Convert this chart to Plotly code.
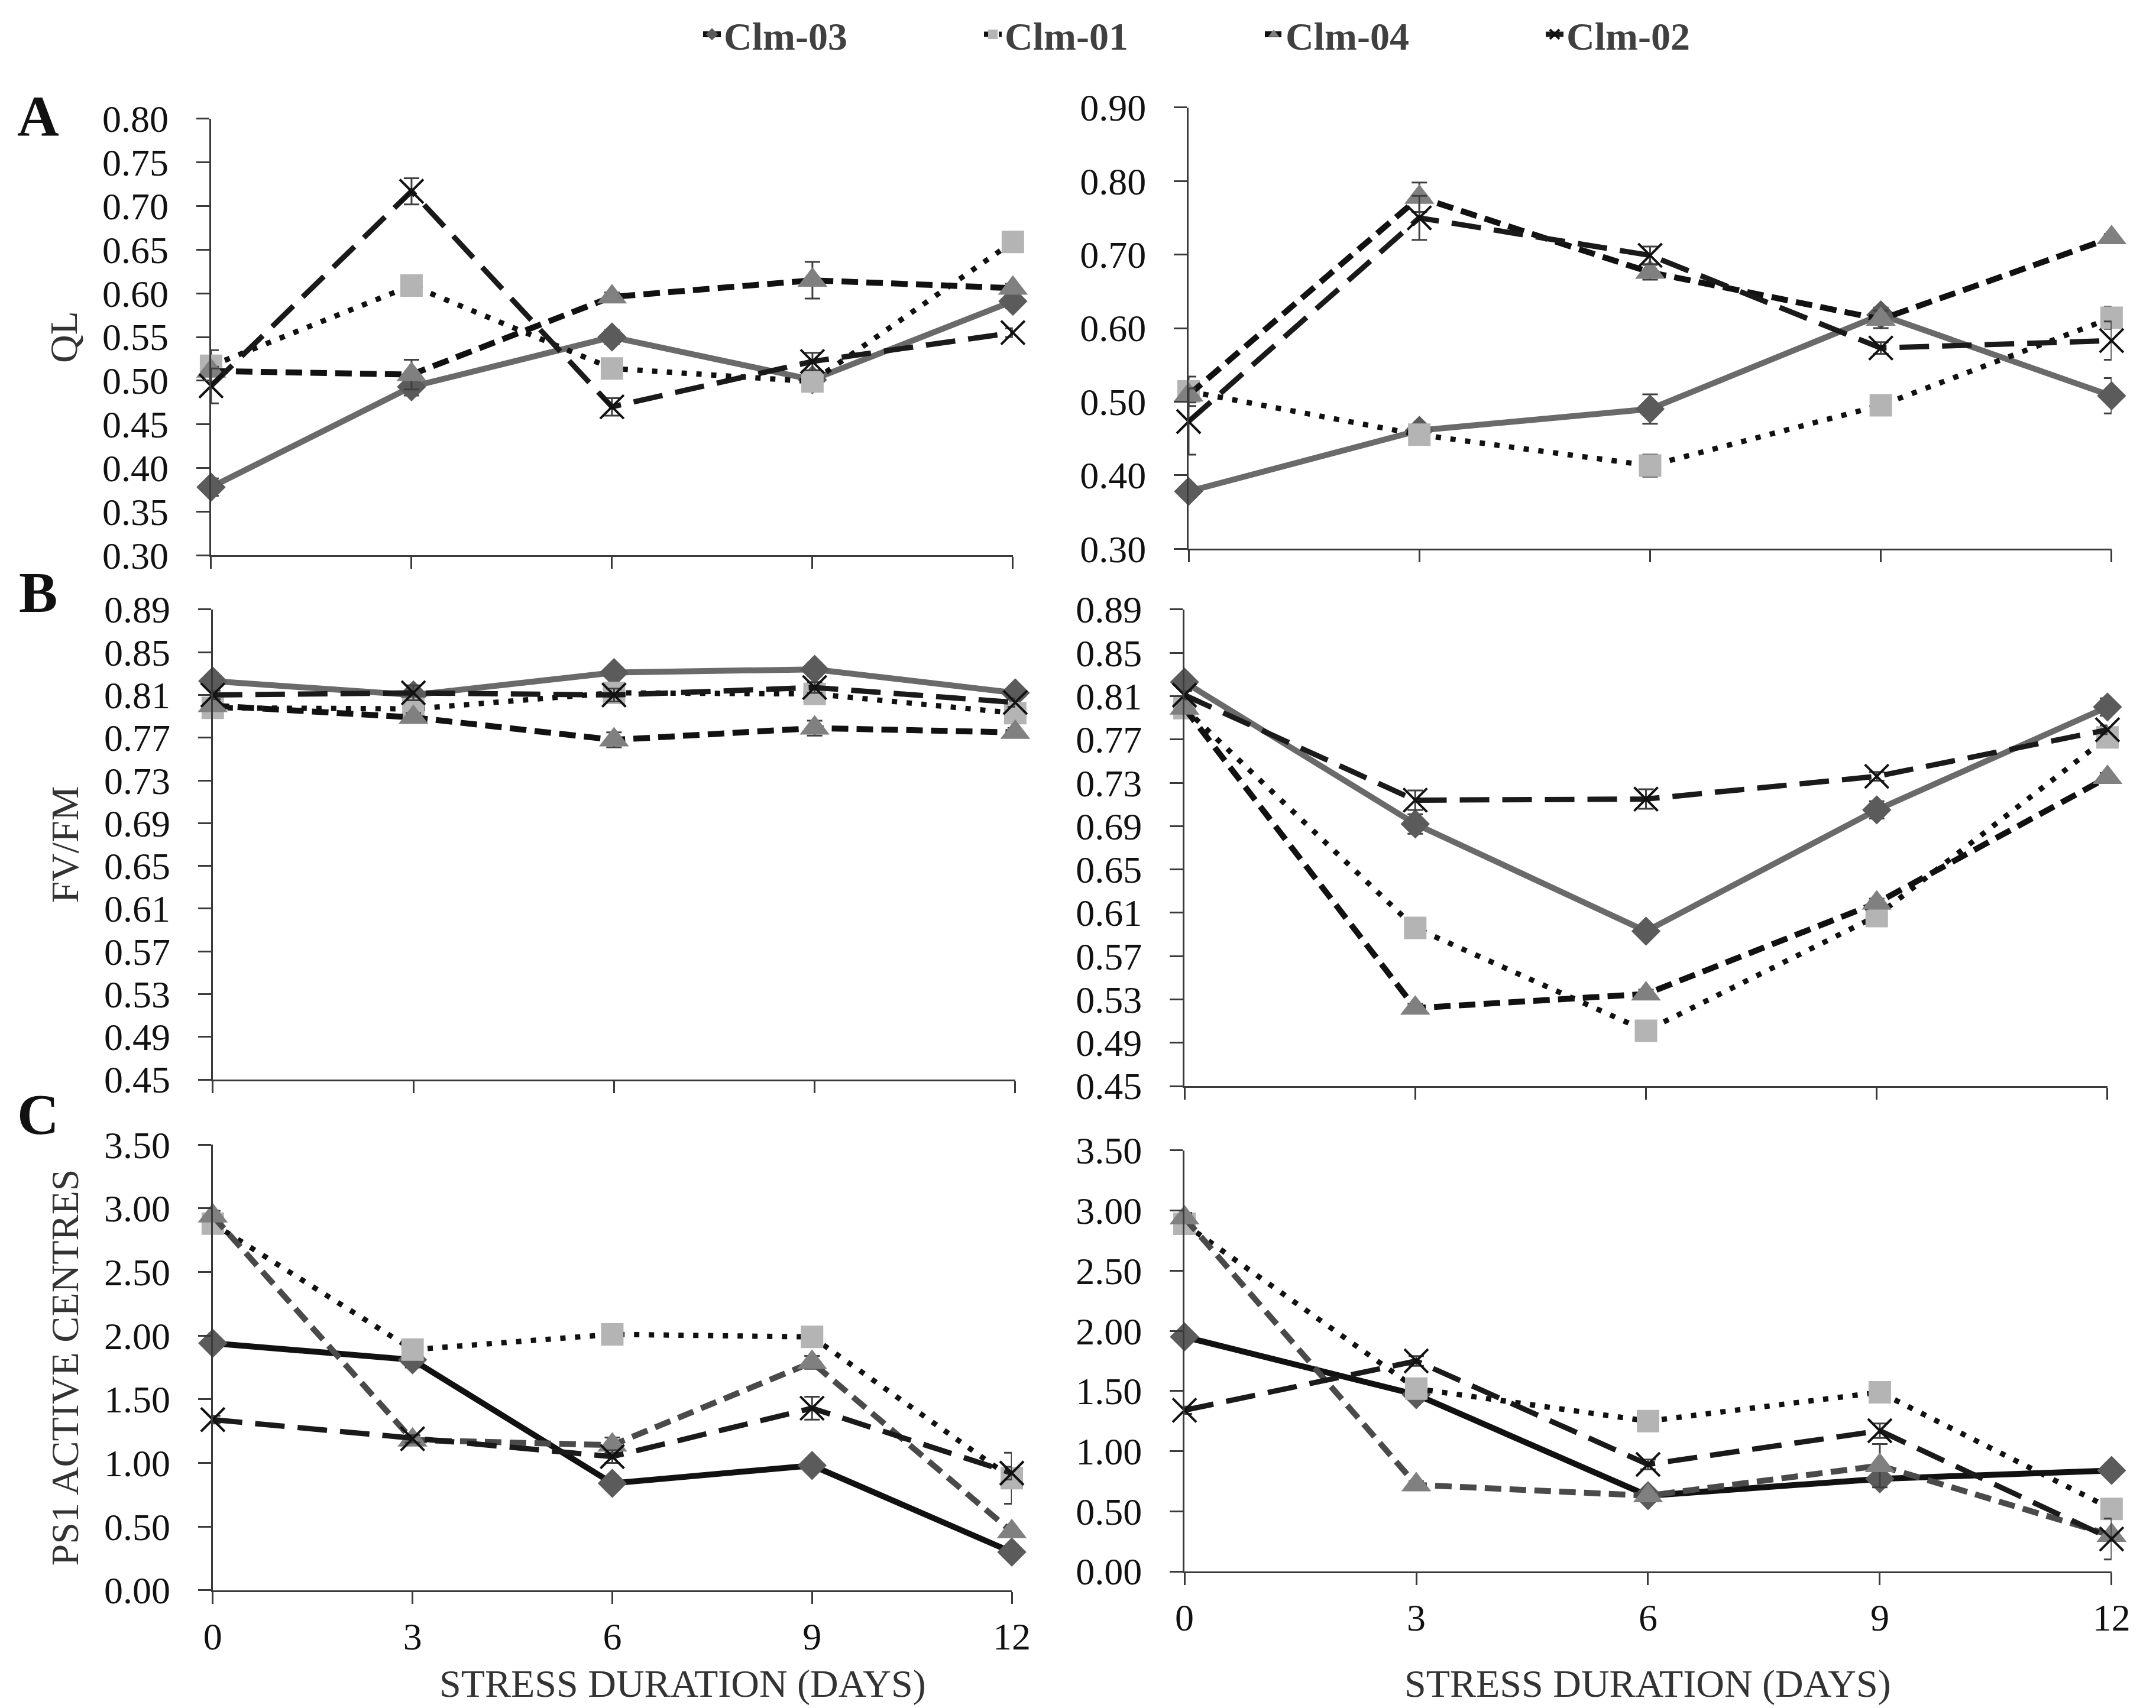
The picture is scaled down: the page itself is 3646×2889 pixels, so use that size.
import plotly.graph_objects as go
from plotly.subplots import make_subplots

# stress duration (days)
days = [0, 3, 6, 9, 12]
day_labels = ["0", "3", "6", "9", "12"]

# A - QL, left / right
ql_l_03 = [0.378, 0.493, 0.550, 0.501, 0.591]
ql_l_01 = [0.517, 0.609, 0.514, 0.499, 0.659]
ql_l_04 = [0.511, 0.507, 0.596, 0.615, 0.606]
ql_l_02 = [0.494, 0.717, 0.470, 0.522, 0.555]
ql_l_03_err = [0.010, 0.010, 0.008, 0.005, 0.008]
ql_l_01_err = [0.018, 0.005, 0.005, 0.005, 0.005]
ql_l_04_err = [0.005, 0.017, 0.005, 0.021, 0.005]
ql_l_02_err = [0.020, 0.015, 0.010, 0.010, 0.005]

ql_r_03 = [0.378, 0.461, 0.490, 0.618, 0.508]
ql_r_01 = [0.514, 0.455, 0.413, 0.495, 0.614]
ql_r_04 = [0.509, 0.778, 0.676, 0.612, 0.723]
ql_r_02 = [0.473, 0.750, 0.699, 0.573, 0.583]
ql_r_03_err = [0.008, 0.005, 0.020, 0.010, 0.024]
ql_r_01_err = [0.020, 0.005, 0.015, 0.005, 0.015]
ql_r_04_err = [0.010, 0.020, 0.010, 0.012, 0.005]
ql_r_02_err = [0.045, 0.030, 0.012, 0.008, 0.026]

# B - FV/FM
fv_l_03 = [0.823, 0.810, 0.831, 0.834, 0.812]
fv_l_01 = [0.798, 0.797, 0.812, 0.811, 0.793]
fv_l_04 = [0.800, 0.789, 0.768, 0.779, 0.775]
fv_l_02 = [0.810, 0.812, 0.810, 0.817, 0.803]
fv_l_03_err = [0.006, 0.004, 0.004, 0.006, 0.004]
fv_l_01_err = [0.004, 0.004, 0.004, 0.004, 0.004]
fv_l_04_err = [0.004, 0.004, 0.007, 0.007, 0.004]
fv_l_02_err = [0.004, 0.007, 0.006, 0.005, 0.004]

fv_r_03 = [0.823, 0.692, 0.593, 0.705, 0.800]
fv_r_01 = [0.799, 0.596, 0.501, 0.607, 0.772]
fv_r_04 = [0.799, 0.522, 0.535, 0.619, 0.735]
fv_r_02 = [0.811, 0.714, 0.715, 0.736, 0.779]
fv_r_03_err = [0.006, 0.009, 0.004, 0.008, 0.008]
fv_r_01_err = [0.004, 0.005, 0.004, 0.004, 0.004]
fv_r_04_err = [0.004, 0.004, 0.004, 0.004, 0.004]
fv_r_02_err = [0.004, 0.009, 0.009, 0.004, 0.004]

# C - PS1 active centres
ps_l_03 = [1.94, 1.81, 0.84, 0.98, 0.30]
ps_l_01 = [2.88, 1.89, 2.01, 1.99, 0.88]
ps_l_04 = [2.94, 1.18, 1.14, 1.79, 0.46]
ps_l_02 = [1.34, 1.19, 1.05, 1.43, 0.92]
ps_l_03_err = [0.03, 0.06, 0.03, 0.03, 0.03]
ps_l_01_err = [0.05, 0.04, 0.05, 0.04, 0.20]
ps_l_04_err = [0.04, 0.03, 0.06, 0.05, 0.03]
ps_l_02_err = [0.03, 0.03, 0.05, 0.09, 0.05]

ps_r_03 = [1.95, 1.47, 0.63, 0.77, 0.84]
ps_r_01 = [2.89, 1.52, 1.25, 1.49, 0.52]
ps_r_04 = [2.94, 0.72, 0.63, 0.88, 0.30]
ps_r_02 = [1.34, 1.75, 0.89, 1.17, 0.27]
ps_r_03_err = [0.04, 0.05, 0.03, 0.05, 0.04]
ps_r_01_err = [0.03, 0.03, 0.03, 0.03, 0.03]
ps_r_04_err = [0.04, 0.03, 0.03, 0.18, 0.03]
ps_r_02_err = [0.03, 0.04, 0.04, 0.06, 0.17]

FONT = "Liberation Serif"
AXC = "#3a3a3a"

#styles per line
def st03(line_col):
    return dict(line=dict(color=line_col, width=10),
                marker=dict(symbol="diamond", size=38, color="#5b5b5b"))

def st04(line_col):
    return dict(line=dict(color=line_col, width=10, dash="28px,14px"),
                marker=dict(symbol="triangle-up", size=44, color="#808080"))

st01 = dict(line=dict(color="#111111", width=9, dash="9px,16px"),
            marker=dict(symbol="square", size=38, color="#b4b4b4"))
st02 = dict(line=dict(color="#1a1a1a", width=9, dash="50px,22px"),
            marker=dict(symbol="x-thin", size=40, color="#111111",
                        line=dict(color="#111111", width=4)))

fig = make_subplots(rows=3, cols=2)

def add_panel(row, col, series, legend_names=()):
    for name, y, err, style in series:
        fig.add_trace(go.Scatter(
            x=days, y=y, name=name, mode="lines+markers",
            line=style["line"], marker=style["marker"],
            error_y=dict(type="data", array=err, color="#404040",
                         thickness=3, width=13),
            cliponaxis=False, legendgroup=name,
            showlegend=name in legend_names,
            legendrank={"Clm-03": 1, "Clm-01": 2, "Clm-04": 3, "Clm-02": 4}[name]),
            row=row, col=col)

add_panel(1, 1, [("Clm-03", ql_l_03, ql_l_03_err, st03("#6a6a6a")),
                 ("Clm-01", ql_l_01, ql_l_01_err, st01),
                 ("Clm-04", ql_l_04, ql_l_04_err, st04("#111111")),
                 ("Clm-02", ql_l_02, ql_l_02_err, st02)],
          legend_names=("Clm-01", "Clm-04", "Clm-02"))
add_panel(1, 2, [("Clm-03", ql_r_03, ql_r_03_err, st03("#6a6a6a")),
                 ("Clm-01", ql_r_01, ql_r_01_err, st01),
                 ("Clm-04", ql_r_04, ql_r_04_err, st04("#111111")),
                 ("Clm-02", ql_r_02, ql_r_02_err, st02)])
add_panel(2, 1, [("Clm-03", fv_l_03, fv_l_03_err, st03("#6a6a6a")),
                 ("Clm-01", fv_l_01, fv_l_01_err, st01),
                 ("Clm-04", fv_l_04, fv_l_04_err, st04("#111111")),
                 ("Clm-02", fv_l_02, fv_l_02_err, st02)])
add_panel(2, 2, [("Clm-03", fv_r_03, fv_r_03_err, st03("#6a6a6a")),
                 ("Clm-01", fv_r_01, fv_r_01_err, st01),
                 ("Clm-04", fv_r_04, fv_r_04_err, st04("#111111")),
                 ("Clm-02", fv_r_02, fv_r_02_err, st02)])
add_panel(3, 1, [("Clm-03", ps_l_03, ps_l_03_err, st03("#111111")),
                 ("Clm-01", ps_l_01, ps_l_01_err, st01),
                 ("Clm-04", ps_l_04, ps_l_04_err, st04("#4a4a4a")),
                 ("Clm-02", ps_l_02, ps_l_02_err, st02)],
          legend_names=("Clm-03",))
add_panel(3, 2, [("Clm-03", ps_r_03, ps_r_03_err, st03("#111111")),
                 ("Clm-01", ps_r_01, ps_r_01_err, st01),
                 ("Clm-04", ps_r_04, ps_r_04_err, st04("#4a4a4a")),
                 ("Clm-02", ps_r_02, ps_r_02_err, st02)])

# panel placement (matches the original figure layout)
x_domains = [[0.0957, 0.4676], [0.5491, 0.9772], [0.0965, 0.4687],
             [0.5472, 0.9753], [0.0965, 0.4671], [0.5472, 0.9772]]
y_domains = [[0.6777, 0.9332], [0.6815, 0.9398], [0.3707, 0.6459],
             [0.3669, 0.6459], [0.0717, 0.3326], [0.0827, 0.3292]]
y_ranges = [[0.30, 0.80], [0.30, 0.90], [0.45, 0.89],
            [0.45, 0.89], [0.0, 3.5], [0.0, 3.5]]
y_dticks = [0.05, 0.1, 0.04, 0.04, 0.5, 0.5]
y_titles = ["QL", "", "FV/FM", "", "PS1 ACTIVE CENTRES", ""]

tickfont = dict(family=FONT, size=64, color="#111111")
for i in range(6):
    sfx = "" if i == 0 else str(i + 1)
    fig.layout["xaxis" + sfx].update(
        domain=x_domains[i], range=[0, 12], tickmode="array",
        tickvals=days, ticktext=day_labels, showticklabels=i >= 4,
        showline=True, linecolor=AXC, linewidth=3, ticks="outside",
        ticklen=20, tickwidth=3, tickcolor=AXC, showgrid=False,
        zeroline=False, tickfont=tickfont, tickangle=0, automargin=False)
    fig.layout["yaxis" + sfx].update(
        domain=y_domains[i], range=y_ranges[i], tick0=y_ranges[i][0],
        dtick=y_dticks[i], tickformat=".2f", showline=True, linecolor=AXC,
        linewidth=3, ticks="outside", ticklen=22, tickwidth=3,
        tickcolor=AXC, showgrid=False, zeroline=False, tickfont=tickfont,
        ticklabelstandoff=34, automargin=False,
        title=dict(text=y_titles[i], standoff=22,
                   font=dict(family=FONT, size=66, color="#333333")))

# x titles of the bottom row
fig.add_annotation(text="STRESS DURATION (DAYS)", xref="x5 domain", x=0.588,
                   xanchor="center", yref="paper", y=1 - 2840 / 2889,
                   yanchor="middle", showarrow=False,
                   font=dict(family=FONT, size=66, color="#333333"))
fig.add_annotation(text="STRESS DURATION (DAYS)", xref="x6 domain", x=0.5,
                   xanchor="center", yref="paper", y=1 - 2840 / 2889,
                   yanchor="middle", showarrow=False,
                   font=dict(family=FONT, size=66, color="#333333"))

# panel letters
for letter, yy in [("A", 1 - 188 / 2889), ("B", 1 - 994 / 2889), ("C", 1 - 1877 / 2889)]:
    fig.add_annotation(text="<b>%s</b>" % letter, xref="paper", x=56 / 3646,
                       xanchor="center", yref="paper", y=yy, yanchor="middle",
                       showarrow=False,
                       font=dict(family=FONT, size=98, color="#111111"))

fig.update_layout(
    template="simple_white",
    width=3646, height=2889,
    margin=dict(l=0, r=0, t=0, b=0, autoexpand=False),
    paper_bgcolor="white", plot_bgcolor="white",
    font=dict(family=FONT),
    legend=dict(orientation="h", x=1176 / 3646, xanchor="left",
                y=1 - 50 / 2889, yanchor="middle",
                font=dict(family=FONT, size=66, color="#404040", weight="bold"),
                entrywidth=430, entrywidthmode="pixels",
                itemsizing="trace", traceorder="normal"),
)

fig.write_html("out.html")
